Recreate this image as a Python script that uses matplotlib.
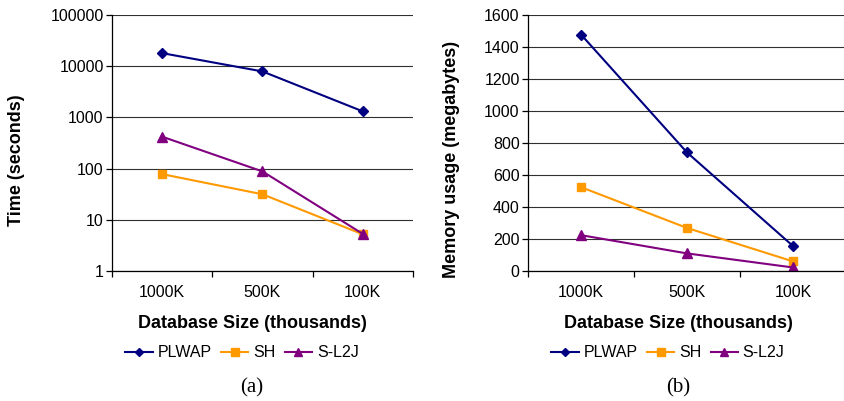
import numpy as np
import matplotlib.pyplot as plt
from matplotlib.ticker import FixedLocator, FixedFormatter, NullLocator

plt.rcParams['font.family'] = ['Liberation Sans', 'DejaVu Sans']

# data
sizes = ['1000K', '500K', '100K']
series = ['PLWAP', 'SH', 'S-L2J']
time_plwap = [18000, 7900, 1310]
time_sh = [78, 31.5, 5.2]
time_sl2j = [420, 88, 5.3]
mem_plwap = [1478, 741, 156]
mem_sh = [524, 269, 60]
mem_sl2j = [224, 110, 22]

time_ticks = [1, 10, 100, 1000, 10000, 100000]
mem_ticks = [0, 200, 400, 600, 800, 1000, 1200, 1400, 1600]

colors = ['#000080', '#FF9900', '#800080']
markers = ['D', 's', '^']
msizes = [5, 6, 7]

W, H = 845, 401
fig = plt.figure(figsize=(W / 100, H / 100), dpi=100)


def px_axes(x0, x1, y0, y1):
    return fig.add_axes([x0 / W, 1 - y1 / H, (x1 - x0) / W, (y1 - y0) / H])


def style_axes(ax, ylabel, yticks, label_x, xlab_x, leg_x, tag):
    x = np.arange(len(sizes))
    ax.set_xlim(-0.5, len(sizes) - 0.5)
    for s in ['top', 'right']:
        ax.spines[s].set_visible(False)
    for s in ['left', 'bottom']:
        ax.spines[s].set_color('black')
        ax.spines[s].set_linewidth(0.9)
    ax.yaxis.grid(True, color='#303030', linewidth=0.8)
    ax.set_axisbelow(True)
    ax.yaxis.set_major_locator(FixedLocator(yticks))
    ax.yaxis.set_major_formatter(FixedFormatter([str(t) for t in yticks]))
    ax.yaxis.set_minor_locator(NullLocator())
    ax.tick_params(axis='y', direction='out', length=4, width=0.9, pad=2,
                   labelsize=11.5)
    # category ticks sit between categories, labels at centers
    ax.xaxis.set_major_locator(FixedLocator(np.arange(len(sizes) + 1) - 0.5))
    ax.xaxis.set_major_formatter(FixedFormatter([''] * (len(sizes) + 1)))
    ax.xaxis.set_minor_locator(FixedLocator(x))
    ax.xaxis.set_minor_formatter(FixedFormatter(sizes))
    ax.tick_params(axis='x', which='major', direction='out', length=4, width=0.9)
    ax.tick_params(axis='x', which='minor', length=0, pad=10, labelsize=11.5)
    ax.set_ylabel(ylabel, fontsize=13, fontweight='bold')
    ax.yaxis.set_label_coords(label_x, 0.434)
    ax.set_xlabel('Database Size (thousands)', fontsize=13, fontweight='bold')
    ax.xaxis.set_label_coords(xlab_x, -0.17)
    ax.legend(loc='center', bbox_to_anchor=(leg_x, -0.32), ncol=3, frameon=False,
              fontsize=11.5, handlelength=1.7, handletextpad=0.3, columnspacing=0.6,
              markerscale=0.85)
    ax.text(xlab_x, -0.455, tag, transform=ax.transAxes, ha='center', va='center',
            fontsize=15, family=['Liberation Serif', 'DejaVu Serif'])


ax1 = px_axes(112, 413, 15, 271)
x = np.arange(len(sizes))
for vals, c, m, ms, name in zip([time_plwap, time_sh, time_sl2j], colors, markers, msizes, series):
    ax1.plot(x, vals, color=c, marker=m, markersize=ms, linewidth=1.5, label=name)
ax1.set_yscale('log')
ax1.set_ylim(1, 100000)
style_axes(ax1, 'Time (seconds)', time_ticks, -0.29, 0.465, 0.432, '(a)')

ax2 = px_axes(528, 846, 15, 271)
for vals, c, m, ms, name in zip([mem_plwap, mem_sh, mem_sl2j], colors, markers, msizes, series):
    ax2.plot(x, vals, color=c, marker=m, markersize=ms, linewidth=1.5, label=name)
ax2.set_ylim(0, 1600)
style_axes(ax2, 'Memory usage (megabytes)', mem_ticks, -0.214, 0.472, 0.44, '(b)')

fig.savefig('out.png', dpi=100)
